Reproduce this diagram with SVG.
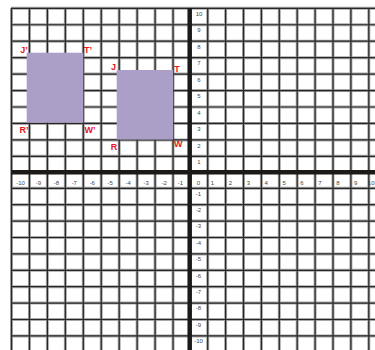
<svg xmlns="http://www.w3.org/2000/svg" width="375" height="350" viewBox="0 0 375 350">
<style>
.gh{stroke:#a8a8a8;stroke-width:3}
.g{stroke:#262626;stroke-width:1.2}
.ax{stroke:#1c1a18;stroke-width:4.5}
.t{font-family:"Liberation Sans",Arial,sans-serif;font-size:6px;fill:#444;text-anchor:middle}
.lb{font-family:"Liberation Sans",Arial,sans-serif;font-size:9px;font-weight:bold;fill:#e8141b;text-anchor:middle}
.sh{fill:#ab9fc8}
</style>
<rect width="375" height="350" fill="#fff"/>
<g id="grid">
<g id="halo" class="gh">
<path d="M11.5 8.3V350M29.45 8.3V350M47.4 8.3V350M65.35 8.3V350M83.3 8.3V350M101.25 8.3V350M119.2 8.3V350M137.15 8.3V350M155.1 8.3V350M173.05 8.3V350M207.7 8.3V350M225.6 8.3V350M243.5 8.3V350M261.4 8.3V350M279.3 8.3V350M297.2 8.3V350M315.1 8.3V350M333 8.3V350M350.9 8.3V350M368.8 8.3V350"/>
<path d="M11 8.3H375M11 24.75H375M11 41.2H375M11 57.65H375M11 74.1H375M11 90.55H375M11 107H375M11 123.45H375M11 139.9H375M11 156.35H375M11 188.3H375M11 204.7H375M11 221.1H375M11 237.5H375M11 253.9H375M11 270.3H375M11 286.7H375M11 303.1H375M11 319.5H375M11 335.9H375"/>
</g>
<g id="lines" class="g">
<path d="M11.5 8.3V350M29.45 8.3V350M47.4 8.3V350M65.35 8.3V350M83.3 8.3V350M101.25 8.3V350M119.2 8.3V350M137.15 8.3V350M155.1 8.3V350M173.05 8.3V350M207.7 8.3V350M225.6 8.3V350M243.5 8.3V350M261.4 8.3V350M279.3 8.3V350M297.2 8.3V350M315.1 8.3V350M333 8.3V350M350.9 8.3V350M368.8 8.3V350"/>
<path d="M11 8.3H375M11 24.75H375M11 41.2H375M11 57.65H375M11 74.1H375M11 90.55H375M11 107H375M11 123.45H375M11 139.9H375M11 156.35H375M11 188.3H375M11 204.7H375M11 221.1H375M11 237.5H375M11 253.9H375M11 270.3H375M11 286.7H375M11 303.1H375M11 319.5H375M11 335.9H375"/>
</g>
<g id="axes" class="ax">
<path d="M189.7 8V350"/>
<path d="M11 172.2H375"/>
</g>
</g>
<g id="xlabels" class="t">
<text x="20.5" y="185">-10</text><text x="38.4" y="185">-9</text><text x="56.4" y="185">-8</text><text x="74.3" y="185">-7</text><text x="92.3" y="185">-6</text><text x="110.2" y="185">-5</text><text x="128.2" y="185">-4</text><text x="146.1" y="185">-3</text><text x="164.1" y="185">-2</text><text x="180.5" y="185">-1</text>
<text x="198.5" y="185">0</text><text x="212.5" y="185">1</text><text x="230.4" y="185">2</text><text x="248.3" y="185">3</text><text x="266.2" y="185">4</text><text x="284.1" y="185">5</text><text x="302" y="185">6</text><text x="319.9" y="185">7</text><text x="337.8" y="185">8</text><text x="355.7" y="185">9</text><text x="374.5" y="185" style="text-anchor:end">10</text>
</g>
<g id="ylabels" class="t">
<text x="199" y="16">10</text><text x="199" y="32.4">9</text><text x="199" y="48.9">8</text><text x="199" y="65.3">7</text><text x="199" y="81.8">6</text><text x="199" y="98.2">5</text><text x="199" y="114.7">4</text><text x="199" y="131.1">3</text><text x="199" y="147.6">2</text><text x="199" y="164">1</text>
<text x="198.5" y="195.5">-1</text><text x="198.5" y="211.9">-2</text><text x="198.5" y="228.3">-3</text><text x="198.5" y="244.7">-4</text><text x="198.5" y="261.1">-5</text><text x="198.5" y="277.5">-6</text><text x="198.5" y="293.9">-7</text><text x="198.5" y="310.3">-8</text><text x="198.5" y="326.7">-9</text><text x="198.5" y="343.1">-10</text>
</g>
<g id="image">
<rect class="sh" x="26.7" y="52.7" width="56.6" height="70"/>
<text class="lb" x="24" y="53">J’</text>
<text class="lb" x="88" y="53">T’</text>
<text class="lb" x="24" y="133">R’</text>
<text class="lb" x="90" y="133">W’</text>
</g>
<g id="preimage">
<rect class="sh" x="116.7" y="70" width="56.3" height="69.5"/>
<text class="lb" x="113.5" y="70">J</text>
<text class="lb" x="177" y="72">T</text>
<text class="lb" x="114" y="150">R</text>
<text class="lb" x="178.3" y="147">W</text>
</g>
</svg>
